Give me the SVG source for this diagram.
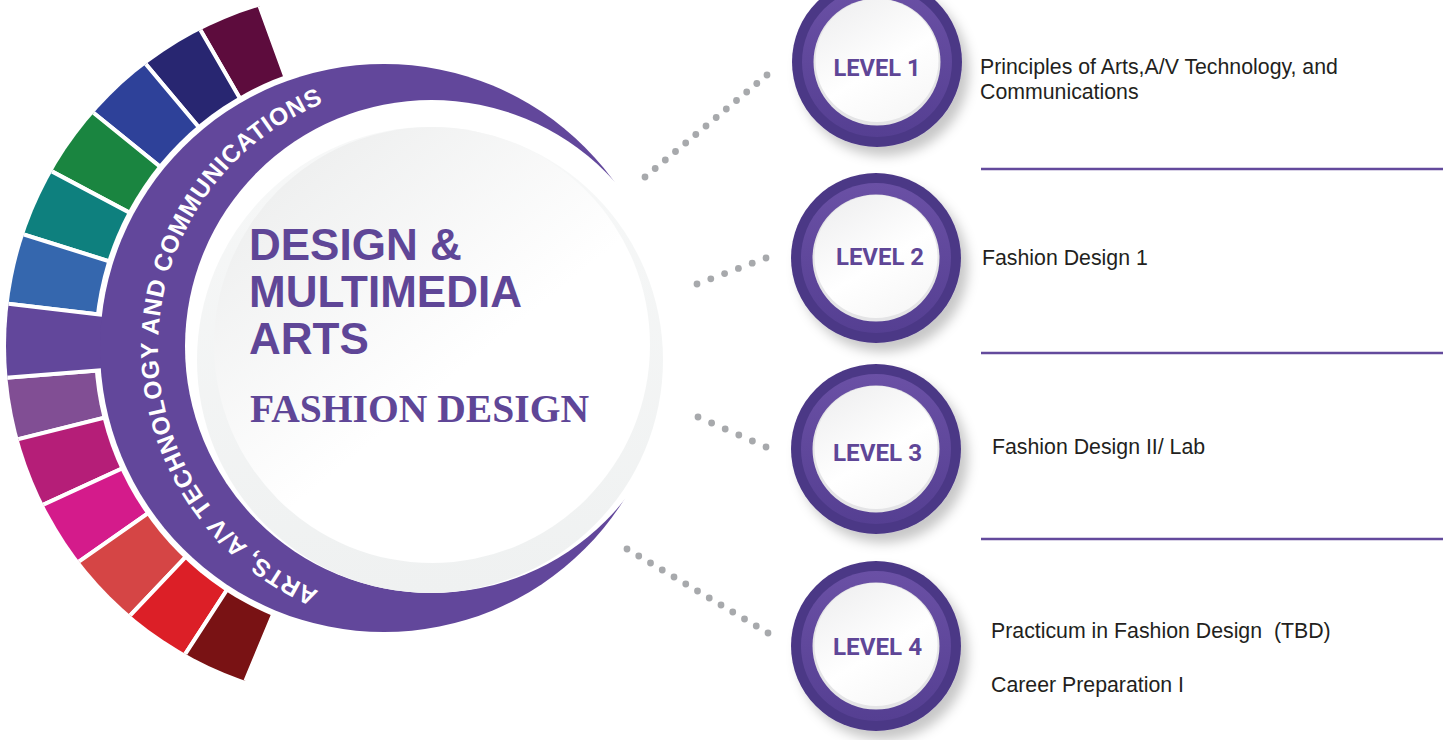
<svg xmlns="http://www.w3.org/2000/svg" width="1450" height="740" viewBox="0 0 1450 740">
<defs>
<style>
.seg{stroke:#fff;stroke-width:4;stroke-linejoin:miter}
.ring{font-family:"Liberation Sans",Arial,sans-serif;font-weight:bold;font-size:24.5px;fill:#fff}
.head{font-family:"Liberation Sans",Arial,sans-serif;font-weight:bold;font-size:44px;fill:#5f4697}
.sub{font-family:"Liberation Serif","Times New Roman",serif;font-weight:bold;font-size:40px;fill:#5f4697}
.lvl{font-family:Roboto,"Liberation Sans",sans-serif;font-weight:bold;font-size:24px;fill:#5f4697}
.desc{font-family:"Liberation Sans",Arial,sans-serif;font-size:21.3px;fill:#231f20}
.dot{fill:#a7a9ac}
.rule{stroke:#634a9c;stroke-width:2.5}
.lo{fill:#4c3886}
.lm{fill:url(#lvRing)}
.lr{fill:#e4e4e6}
.lf{fill:url(#lvFace)}
</style>
<clipPath id="segClip"><circle cx="360" cy="346" r="354"/></clipPath>
<linearGradient id="lvRing" x1="0" y1="0" x2="0" y2="1"><stop offset="0" stop-color="#6a50a5"/><stop offset="1" stop-color="#553f92"/></linearGradient>
<linearGradient id="lvFace" x1="0.2" y1="0" x2="0.8" y2="1"><stop offset="0" stop-color="#efeff0"/><stop offset="0.55" stop-color="#ffffff"/><stop offset="1" stop-color="#f6f6f6"/></linearGradient>
<linearGradient id="innerFace" x1="0.15" y1="0.1" x2="0.8" y2="0.9"><stop offset="0" stop-color="#eeefef"/><stop offset="0.6" stop-color="#ffffff"/></linearGradient>
<linearGradient id="grayFace" x1="0" y1="0" x2="0" y2="1"><stop offset="0" stop-color="#f7f8f8"/><stop offset="1" stop-color="#eff1f1"/></linearGradient>
<filter id="sh" x="-30%" y="-30%" width="170%" height="170%"><feDropShadow dx="7" dy="9" stdDeviation="6" flood-color="#000" flood-opacity="0.22"/></filter>
<path id="ringPath" d="M318.85 591.01 A264 264 0 0 1 323.1 103.22"/>
</defs>

<g id="segments" clip-path="url(#segClip)">
<path class="seg" fill="#5d0c3d" d="M384 348 L240.35 -46.67 A420 420 0 0 0 174 -15.73 Z"/>
<path class="seg" fill="#282671" d="M384 348 L174 -15.73 A420 420 0 0 0 114.03 26.26 Z"/>
<path class="seg" fill="#2e4199" d="M384 348 L114.03 26.26 A420 420 0 0 0 57.6 83.69 Z"/>
<path class="seg" fill="#1a8540" d="M384 348 L57.6 83.69 A420 420 0 0 0 13.16 150.82 Z"/>
<path class="seg" fill="#0e807e" d="M384 348 L13.16 150.82 A420 420 0 0 0 -16.56 221.7 Z"/>
<path class="seg" fill="#3567ae" d="M384 348 L-16.56 221.7 A420 420 0 0 0 -33.13 299 Z"/>
<path class="seg" fill="#814e94" d="M384 348 L-34.71 380.95 A420 420 0 0 0 -23.53 449.61 Z"/>
<path class="seg" fill="#b51e78" d="M384 348 L-23.53 449.61 A420 420 0 0 0 2.43 523.51 Z"/>
<path class="seg" fill="#d41b8b" d="M384 348 L2.43 523.51 A420 420 0 0 0 39.96 588.9 Z"/>
<path class="seg" fill="#d54545" d="M384 348 L39.96 588.9 A420 420 0 0 0 94.89 652.66 Z"/>
<path class="seg" fill="#dc1f27" d="M384 348 L94.89 652.66 A420 420 0 0 0 155.25 700.24 Z"/>
<path class="seg" fill="#791214" d="M384 348 L155.25 700.24 A420 420 0 0 0 222.59 735.75 Z"/>
<circle cx="384" cy="348" r="290" fill="#fff"/>
<path class="seg" fill="#62479b" d="M384 348 L-33.13 299 A420 420 0 0 0 -34.71 380.95 Z"/>
</g>

<g id="hub">
<circle cx="384" cy="348" r="284" fill="#62479b"/>
<circle cx="431.5" cy="346.5" r="246.5" fill="#fff"/>
<circle cx="430" cy="360" r="233" fill="url(#grayFace)"/>
<circle cx="432" cy="345" r="218" fill="url(#innerFace)"/>
<text class="ring"><textPath href="#ringPath" textLength="622" lengthAdjust="spacing">ARTS, A/V TECHNOLOGY AND COMMUNICATIONS</textPath></text>
<text class="head" x="249" y="260">DESIGN &amp;</text>
<text class="head" x="249" y="307">MULTIMEDIA</text>
<text class="head" x="249" y="354">ARTS</text>
<text class="sub" x="250" y="422" textLength="339" lengthAdjust="spacingAndGlyphs">FASHION DESIGN</text>
</g>

<g id="connectors">
<circle class="dot" cx="645" cy="177" r="3.4"/><circle class="dot" cx="655.2" cy="168.5" r="3.4"/><circle class="dot" cx="665.3" cy="160" r="3.4"/><circle class="dot" cx="675.5" cy="151.5" r="3.4"/><circle class="dot" cx="685.7" cy="143" r="3.4"/><circle class="dot" cx="695.8" cy="134.5" r="3.4"/><circle class="dot" cx="706" cy="126" r="3.4"/><circle class="dot" cx="716.2" cy="117.5" r="3.4"/><circle class="dot" cx="726.3" cy="109" r="3.4"/><circle class="dot" cx="736.5" cy="100.5" r="3.4"/><circle class="dot" cx="746.7" cy="92" r="3.4"/><circle class="dot" cx="756.8" cy="83.5" r="3.4"/><circle class="dot" cx="767" cy="75" r="3.4"/>
<circle class="dot" cx="697" cy="284" r="3.4"/><circle class="dot" cx="710.8" cy="278.8" r="3.4"/><circle class="dot" cx="724.6" cy="273.6" r="3.4"/><circle class="dot" cx="738.4" cy="268.4" r="3.4"/><circle class="dot" cx="752.2" cy="263.2" r="3.4"/><circle class="dot" cx="766" cy="258" r="3.4"/>
<circle class="dot" cx="698" cy="417" r="3.4"/><circle class="dot" cx="711.6" cy="423" r="3.4"/><circle class="dot" cx="725.2" cy="429" r="3.4"/><circle class="dot" cx="738.8" cy="435" r="3.4"/><circle class="dot" cx="752.4" cy="441" r="3.4"/><circle class="dot" cx="766" cy="447" r="3.4"/>
<circle class="dot" cx="627" cy="549" r="3.4"/><circle class="dot" cx="638.75" cy="556" r="3.4"/><circle class="dot" cx="650.5" cy="563" r="3.4"/><circle class="dot" cx="662.25" cy="570" r="3.4"/><circle class="dot" cx="674" cy="577" r="3.4"/><circle class="dot" cx="685.75" cy="584" r="3.4"/><circle class="dot" cx="697.5" cy="591" r="3.4"/><circle class="dot" cx="709.25" cy="598" r="3.4"/><circle class="dot" cx="721" cy="605" r="3.4"/><circle class="dot" cx="732.75" cy="612" r="3.4"/><circle class="dot" cx="744.5" cy="619" r="3.4"/><circle class="dot" cx="756.25" cy="626" r="3.4"/><circle class="dot" cx="768" cy="633" r="3.4"/>
</g>

<g id="level1" transform="translate(877,62)">
<circle class="lo" r="85" filter="url(#sh)"/>
<circle class="lm" r="75"/>
<circle class="lr" r="63.5"/>
<circle class="lf" cy="-1.5" r="61.5"/>
<text class="lvl" x="0" y="14" text-anchor="middle" textLength="87" lengthAdjust="spacingAndGlyphs">LEVEL 1</text>
</g>
<g id="level2" transform="translate(876,258)">
<circle class="lo" r="85" filter="url(#sh)"/>
<circle class="lm" r="75"/>
<circle class="lr" r="63.5"/>
<circle class="lf" cy="-1.5" r="61.5"/>
<text class="lvl" x="4" y="7" text-anchor="middle" textLength="88" lengthAdjust="spacingAndGlyphs">LEVEL 2</text>
</g>
<g id="level3" transform="translate(876,449)">
<circle class="lo" r="85" filter="url(#sh)"/>
<circle class="lm" r="75"/>
<circle class="lr" r="63.5"/>
<circle class="lf" cy="-1.5" r="61.5"/>
<text class="lvl" x="1.5" y="12" text-anchor="middle" textLength="89" lengthAdjust="spacingAndGlyphs">LEVEL 3</text>
</g>
<g id="level4" transform="translate(876,646)">
<circle class="lo" r="85" filter="url(#sh)"/>
<circle class="lm" r="75"/>
<circle class="lr" r="63.5"/>
<circle class="lf" cy="-1.5" r="61.5"/>
<text class="lvl" x="1.5" y="9" text-anchor="middle" textLength="89" lengthAdjust="spacingAndGlyphs">LEVEL 4</text>
</g>

<g id="descriptions">
<text class="desc" x="980" y="74">Principles of Arts,A/V Technology, and</text>
<text class="desc" x="980" y="99">Communications</text>
<line class="rule" x1="981" y1="169" x2="1443" y2="169"/>
<text class="desc" x="982" y="265">Fashion Design 1</text>
<line class="rule" x1="981" y1="353" x2="1443" y2="353"/>
<text class="desc" x="992" y="454">Fashion Design II/ Lab</text>
<line class="rule" x1="981" y1="539" x2="1443" y2="539"/>
<text class="desc" x="991" y="638" xml:space="preserve">Practicum in Fashion Design  (TBD)</text>
<text class="desc" x="991" y="692">Career Preparation I</text>
</g>
</svg>
